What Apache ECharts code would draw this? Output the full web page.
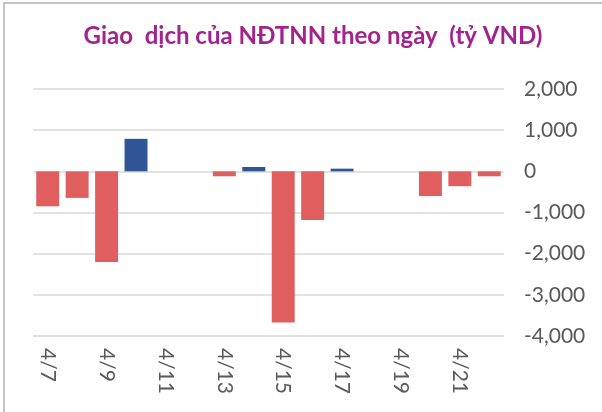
<!DOCTYPE html>
<html>
<head>
<meta charset="utf-8">
<script src="https://cdn.jsdelivr.net/npm/echarts@6/dist/echarts.min.js"></script>
<style>
html,body{margin:0;padding:0;background:#fff;}
#frame{position:absolute;left:0;top:0;width:602px;height:412px;}
#border{position:absolute;left:3px;top:2px;width:599px;height:410px;border-top:2px solid #c4c4c4;border-left:2px solid #c4c4c4;box-sizing:border-box;pointer-events:none;}
#chart{position:absolute;left:0;top:0;width:602px;height:412px;}
</style>
</head>
<body>
<div id="frame">
<div id="chart"></div>
<div id="border"></div>
</div>
<script>
const categories = ['4/7','4/8','4/9','4/10','4/11','4/12','4/13','4/14','4/15','4/16','4/17','4/18','4/19','4/20','4/21','4/22'];
const netValues = [-850, -645, -2200, 790, null, null, -120, 105, -3670, -1180, 65, null, null, -600, -360, -120];
const yTicks = [2000, 1000, 0, -1000, -2000, -3000, -4000];
const titleText = 'Giao  dịch của NĐTNN theo ngày  (tỷ VND)';

const red = '#E05E5E';
const blue = '#2F5597';

const chart = echarts.init(document.getElementById('chart'), null, {renderer: 'canvas'});
chart.setOption({
  animation: false,
  backgroundColor: '#fff',
  title: {
    text: titleText,
    left: 308,
    textAlign: 'center',
    top: 19,
    textStyle: {color: '#A3238E', fontFamily: 'Lato', fontWeight: 'bold', fontSize: 24}
  },
  grid: {left: 33, right: 98, top: 89, bottom: 76, containLabel: false},
  xAxis: {
    type: 'category',
    data: categories,
    axisLine: {show: false},
    axisTick: {show: false},
    axisLabel: {
      interval: 1,
      rotate: -90,
      margin: 12,
      color: '#595959',
      fontFamily: 'Lato',
      fontSize: 21
    }
  },
  yAxis: {
    type: 'value',
    position: 'right',
    min: yTicks[yTicks.length - 1],
    max: yTicks[0],
    interval: 1000,
    axisLine: {show: false},
    axisTick: {show: false},
    splitLine: {lineStyle: {color: '#D9D9D9', width: 1.5}},
    axisLabel: {
      margin: 20,
      color: '#595959',
      fontFamily: 'Lato',
      fontSize: 21,
      formatter: v => v.toLocaleString('en-US')
    }
  },
  series: [{
    type: 'bar',
    data: netValues.map(v => v === null ? null : {
      value: v,
      itemStyle: {color: v >= 0 ? blue : red}
    }),
    barCategoryGap: '22%'
  }]
});
</script>
</body>
</html>
